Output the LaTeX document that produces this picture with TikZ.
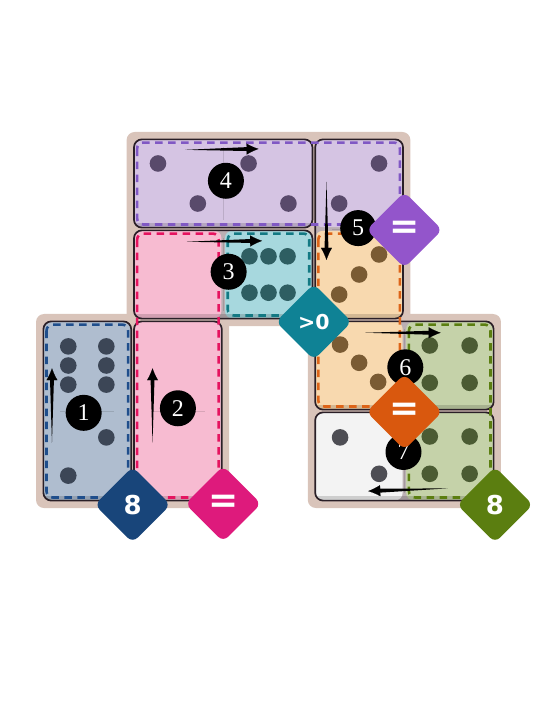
\documentclass[tikz,border=0pt]{standalone}
\usepackage{fontspec}
\usepackage{tikz}
\usetikzlibrary{shapes.geometric,arrows.meta,calc}
\newfontfamily\numfont{Liberation Serif}
\newfontfamily\tagfont{DejaVu Sans}

\definecolor{boardbg}{HTML}{D9C4BA}
\definecolor{tilebase}{HTML}{BBAFB3}
\definecolor{tileedge}{HTML}{2A1F27}
\definecolor{bluefill}{HTML}{AFBDCF}
\definecolor{bluedash}{HTML}{1F4E8C}
\definecolor{bluepip}{HTML}{3C4656}
\definecolor{bluetag}{HTML}{18457A}
\definecolor{pinkfill}{HTML}{F7BBD1}
\definecolor{pinkdash}{HTML}{E5135F}
\definecolor{pinktag}{HTML}{DE1A7C}
\definecolor{tealfill}{HTML}{A7D8DE}
\definecolor{tealdash}{HTML}{137983}
\definecolor{tealpip}{HTML}{2E5E62}
\definecolor{tealtag}{HTML}{0F8295}
\definecolor{purplefill}{HTML}{D5C4E3}
\definecolor{purpledash}{HTML}{8058C4}
\definecolor{purplepip}{HTML}{594A6B}
\definecolor{purpletag}{HTML}{9355CB}
\definecolor{orangefill}{HTML}{F8D9AF}
\definecolor{orangedash}{HTML}{DD6418}
\definecolor{orangepip}{HTML}{7A5B33}
\definecolor{orangetag}{HTML}{D9580E}
\definecolor{greenfill}{HTML}{C5D2A9}
\definecolor{greendash}{HTML}{5B7E10}
\definecolor{greenpip}{HTML}{4B5B33}
\definecolor{greentag}{HTML}{5B7E10}
\definecolor{plainfill}{HTML}{F3F3F3}
\definecolor{plainpip}{HTML}{4E4E54}

\begin{document}
\begin{tikzpicture}[
   x=90.6pt, y=-91pt,
   board/.style={fill=boardbg,rounded corners=8pt},
   tilebody/.style={fill=tilebase,rounded corners=8pt},
   tileline/.style={draw=tileedge,line width=1.7pt,rounded corners=8pt},
   area/.style={rounded corners=7pt},
   fence/.style={line width=2.6pt,dash pattern=on 7.5pt off 5.5pt,rounded corners=6pt},
   seam/.style={draw=black,opacity=.12,line width=.8pt},
   move/.style={-{Latex[length=12pt,width=11pt]},line width=.1pt},
   num/.style={circle,fill=black,text=white,minimum size=36pt,inner sep=0pt,font=\numfont\fontsize{24}{24}\selectfont},
   tag/.style={diamond,aspect=1,minimum size=76pt,inner sep=0pt,rounded corners=7pt,text=white,font=\tagfont\bfseries\fontsize{26}{26}\selectfont}]
\useasboundingbox (-0.4636,-1.5165) rectangle (5.4857,6.3626);

\fill[board] (0.934,-0.066) rectangle (4.066,2.066);
\fill[board] (-0.066,1.934) rectangle (2.066,4.066);
\fill[board] (2.934,1.934) rectangle (5.066,4.066);

\foreach \xa/\ya/\xb/\yb in {0/2/1/4,1/2/2/4,1/1/3/2,1/0/3/1,3/0/4/2,3/2/5/3,3/3/5/4}
  \fill[tilebody] (\xa+0.015,\ya+0.015) rectangle (\xb-0.015,\yb-0.015);

\fill[area,bluefill] (0.02,2.02) rectangle (0.98,3.98);
\fill[area,pinkfill] (1.02,1.02) rectangle (1.98,1.98);
\fill[area,pinkfill] (1.02,2.02) rectangle (1.98,3.98);
\fill[area,tealfill] (2.02,1.02) rectangle (2.98,1.98);
\fill[area,purplefill] (1.02,0.02) rectangle (2.98,0.98);
\fill[area,purplefill] (3.02,0.02) rectangle (3.98,0.98);
\fill[area,orangefill] (3.02,1.02) rectangle (3.98,1.98);
\fill[area,orangefill] (3.02,2.02) rectangle (3.98,2.98);
\fill[area,greenfill] (4.02,2.02) rectangle (4.98,2.98);
\fill[area,greenfill] (4.02,3.02) rectangle (4.98,3.98);
\fill[area,plainfill] (3.02,3.02) rectangle (3.98,3.98);

\foreach \xa/\ya/\xb/\yb in {0/2/1/4,1/2/2/4,1/1/3/2,1/0/3/1,3/0/4/2,3/2/5/3,3/3/5/4}{
  \begin{scope}
    \clip[rounded corners=8pt] (\xa+0.015,\ya+0.015) rectangle (\xb-0.015,\yb-0.015);
    \fill[black,opacity=.15] (\xa,\yb-0.07) rectangle (\xb,\yb);
  \end{scope}
  \draw[tileline] (\xa+0.015,\ya+0.015) rectangle (\xb-0.015,\yb-0.015);
}

\draw[seam] (0.2,3) -- (0.8,3);
\draw[seam] (1.2,3) -- (1.8,3);
\draw[seam] (2,1.1) -- (2,1.9);
\draw[seam] (2,0.1) -- (2,0.9);
\draw[seam] (3.2,1) -- (3.8,1);
\draw[seam] (4,2.1) -- (4,2.9);
\draw[seam] (4,3.1) -- (4,3.9);

\draw[fence,bluedash] (0.05,2.05) rectangle (0.95,3.95);
\draw[fence,pinkdash] (1.05,1.05) rectangle (1.95,3.95);
\draw[fence,tealdash] (2.05,1.05) rectangle (2.95,1.95);
\draw[fence,purpledash] (1.05,0.05) rectangle (3.95,0.95);
\draw[fence,orangedash] (3.05,1.05) rectangle (3.95,2.95);
\draw[fence,greendash] (4.05,2.05) rectangle (4.95,3.95);

\foreach \dx/\dy in {-0.21/-0.21,0.21/-0.21,-0.21/0,0.21/0,-0.21/0.21,0.21/0.21}
  \fill[bluepip] (0.5+\dx,2.5+\dy) circle[radius=8.3pt];
\foreach \dx/\dy in {0.21/-0.21,-0.21/0.21}
  \fill[bluepip] (0.5+\dx,3.5+\dy) circle[radius=8.3pt];
\foreach \dx/\dy in {-0.21/-0.2,0/-0.2,0.21/-0.2,-0.21/0.2,0/0.2,0.21/0.2}
  \fill[tealpip] (2.5+\dx,1.5+\dy) circle[radius=8.3pt];
\foreach \dx/\dy in {-0.22/-0.22,0.22/0.22}{
  \fill[purplepip] (1.5+\dx,0.5+\dy) circle[radius=8.3pt];
  \fill[purplepip] (2.5+\dx,0.5+\dy) circle[radius=8.3pt];
}
\foreach \dx/\dy in {0.22/-0.22,-0.22/0.22}
  \fill[purplepip] (3.5+\dx,0.5+\dy) circle[radius=8.3pt];
\foreach \dx/\dy in {0.22/-0.22,0/0,-0.22/0.22}
  \fill[orangepip] (3.5+\dx,1.5+\dy) circle[radius=8.3pt];
\foreach \dx/\dy in {-0.21/-0.23,0/-0.03,0.21/0.18}
  \fill[orangepip] (3.5+\dx,2.5+\dy) circle[radius=8.3pt];
\foreach \dx/\dy in {-0.22/-0.22,0.22/-0.22,-0.22/0.19,0.22/0.19}{
  \fill[greenpip] (4.5+\dx,2.5+\dy) circle[radius=8.3pt];
  \fill[greenpip] (4.5+\dx,3.5+\dy) circle[radius=8.3pt];
}
\foreach \dx/\dy in {-0.21/-0.21,0.22/0.19}
  \fill[plainpip] (3.5+\dx,3.5+\dy) circle[radius=8.3pt];

\coordinate (a1s) at (0.11,3.35);
\coordinate (a1e) at (0.11,2.53);
\coordinate (a2s) at (1.22,3.35);
\coordinate (a2e) at (1.22,2.53);
\coordinate (a3s) at (1.60,1.14);
\coordinate (a3e) at (2.43,1.13);
\coordinate (a4s) at (1.58,0.13);
\coordinate (a4e) at (2.39,0.12);
\coordinate (a5s) at (3.14,0.48);
\coordinate (a5e) at (3.14,1.34);
\coordinate (a6s) at (3.57,2.14);
\coordinate (a6e) at (4.40,2.14);
\coordinate (a7s) at (4.48,3.85);
\coordinate (a7e) at (3.60,3.88);
\foreach \i in {1,...,7}{
  \fill (a\i s) -- ($(a\i e)!10pt!(a\i s)!2pt!90:(a\i s)$)
    -- ($(a\i e)!10pt!(a\i s)!2pt!-90:(a\i s)$) -- cycle;
  \draw[move] ($(a\i e)!11pt!(a\i s)$) -- (a\i e);
}

\node[num] (n1) at (0.46,3.02) {1};
\node[num] (n2) at (1.50,2.97) {2};
\node[num] (n3) at (2.06,1.47) {3};
\node[num] (n4) at (2.03,0.47) {4};
\node[num] (n5) at (3.49,0.99) {5};
\node[num] (n6) at (4.01,2.52) {6};
\node[num] (n7) at (3.99,3.45) {7};

\node[tag,fill=bluetag] (bluesum) at (1,4.03) {8};
\node[tag,fill=pinktag] (pinkeq) at (2,4.02) {\fontsize{36}{36}\selectfont =};
\node[tag,fill=tealtag] (tealgt) at (3,2.02) {\fontsize{20.5}{20.5}\selectfont >0};
\node[tag,fill=purpletag] (purpleeq) at (4,1.01) {\fontsize{36}{36}\selectfont =};
\node[tag,fill=orangetag] (orangeeq) at (4,3.01) {\fontsize{36}{36}\selectfont =};
\node[tag,fill=greentag] (greensum) at (5,4.03) {8};
\end{tikzpicture}
\end{document}
